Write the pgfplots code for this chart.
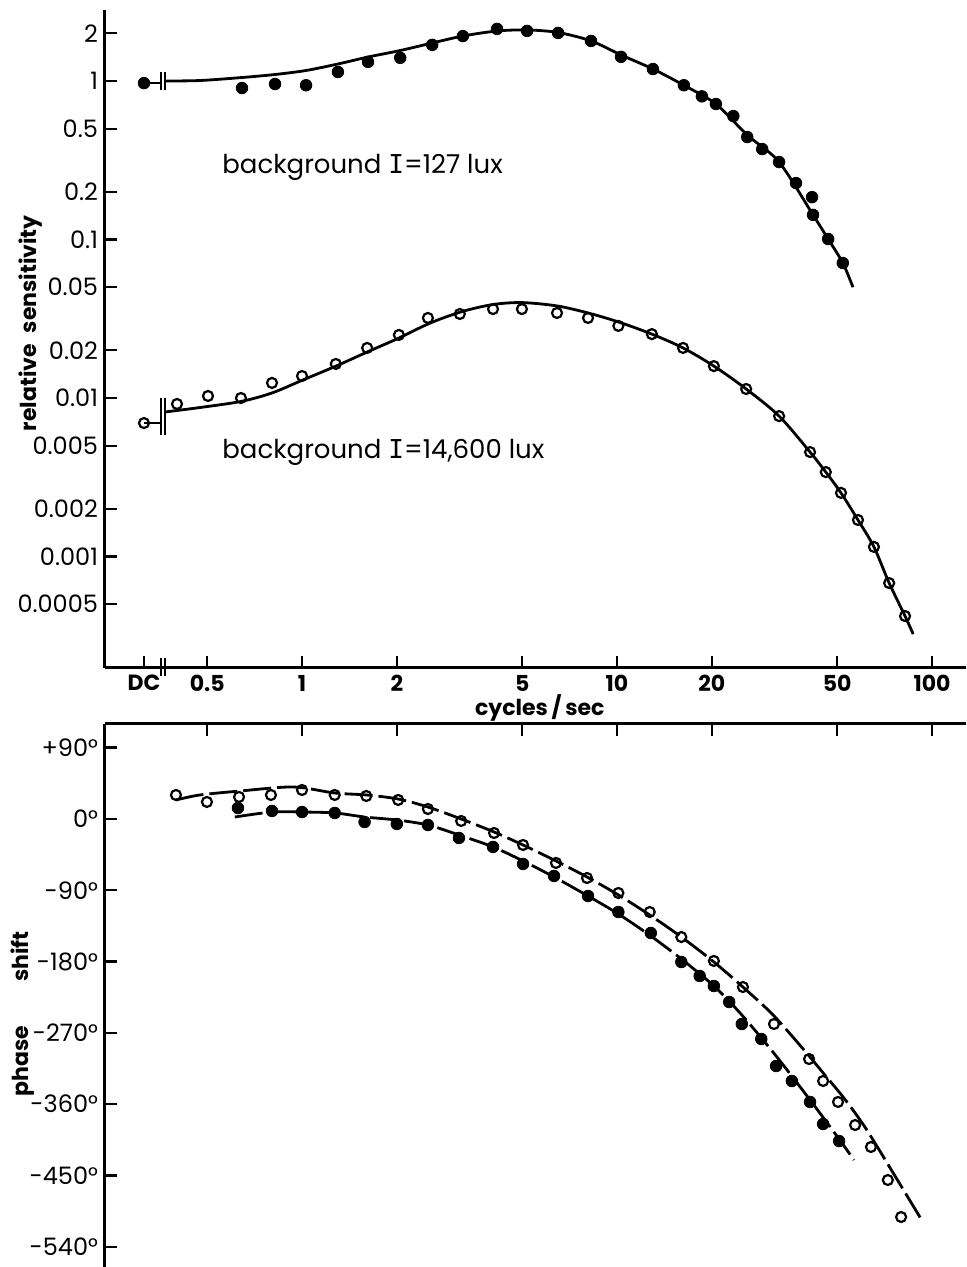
\documentclass[border=0pt]{standalone}
\usepackage{pgfplots}
\pgfplotsset{compat=1.18}
\usepackage{fontspec}
\setmainfont{Poppins}
\newfontfamily\monoI{DejaVu Sans Mono}

\pgfplotsset{
  panel/.style={
    scale only axis, width=430.5pt,
    xmin=0.2369, xmax=128.2,
    axis line style={line width=1.5pt},
    tick style={line width=1.2pt, black},
    major tick length=6pt, tick align=inside,
    minor xtick={}, minor ytick={},
    clip=false,
    /pgf/number format/assume math mode=true,
    tick label style={font=\fontsize{12}{14}\selectfont},
    label style={font=\bfseries\fontsize{11}{13}\selectfont},
  },
  fitline/.style={black, line width=1.4pt, smooth, no marks},
  fdots/.style={only marks, mark=*, mark size=2.9pt, black},
  odots/.style={only marks, mark=o, mark size=2.5pt, black,
    mark options={line width=1.1pt, fill=white}},
}

\begin{document}
\begin{tikzpicture}

% ---- amplitude ----
\begin{axis}[xmode=log, ymode=log, panel, at={(52.5pt,299.5pt)}, anchor=south west, height=329pt,
  ymin=0.000198, ymax=2.806,
  axis x line*=bottom, axis y line*=left,
  xtick={0.315,0.5,1,2,5,10,20,50,100},
  xticklabels={DC,0.5,1,2,5,10,20,50,100},
  xticklabel style={font=\bfseries\fontsize{11}{13}\selectfont},
  ytick={2,1,0.5,0.2,0.1,0.05,0.02,0.01,0.005,0.002,0.001,0.0005},
  yticklabels={2,1,0.5,0.2,0.1,0.05,0.02,0.01,0.005,0.002,0.001,0.0005},
  xlabel={cycles\,/\,sec},
  xlabel style={at={(axis description cs:0.505,0)}, anchor=north, yshift=-13pt, inner sep=0pt},
  ylabel={relative\enspace sensitivity},
  ylabel style={at={(axis description cs:-0.086,0.524)}, anchor=center},
]
% 127 lux
\addplot[black, line width=1.4pt] coordinates {(0.315,0.97)(0.357,0.97)};
\addplot[fitline] coordinates {(0.367,1.00)(0.4745,1.007)(0.645,1.052)(0.821,1.099)(1.03,1.165)(1.30,1.280)(1.62,1.417)(2.05,1.557)(2.59,1.737)(3.24,1.922)(4.16,2.068)(5.18,2.099)(6.50,2.024)(8.27,1.79)(10.3,1.46)(13.0,1.19)(16.3,0.94)(20.6,0.716)(25.9,0.456)(32.7,0.308)(41.9,0.143)(46.8,0.1007)(52.1,0.0711)(56.1,0.050)};
\addplot[fdots] coordinates {(0.315,0.97)(0.645,0.903)(0.821,0.957)(1.03,0.94)(1.30,1.14)(1.62,1.32)(2.05,1.40)(2.59,1.69)(3.24,1.92)(4.16,2.13)(5.18,2.07)(6.50,2.01)(8.27,1.79)(10.3,1.42)(13.0,1.19)(16.3,0.94)(18.6,0.80)(20.6,0.716)(23.4,0.601)(25.9,0.443)(28.9,0.372)(32.7,0.308)(37.0,0.227)(41.6,0.185)(41.9,0.143)(46.8,0.1007)(52.1,0.0711)};
% 14,600 lux
\addplot[black, line width=1.4pt] coordinates {(0.315,0.00695)(0.357,0.00695)};
\addplot[fitline] coordinates {(0.367,0.00816)(0.4745,0.00871)(0.640,0.00951)(0.803,0.01076)(1.007,0.0130)(1.282,0.0159)(1.61,0.0195)(2.03,0.0239)(2.55,0.0297)(3.22,0.0351)(4.04,0.0389)(4.99,0.0400)(6.45,0.0381)(8.09,0.0344)(10.1,0.0302)(12.9,0.0253)(16.2,0.0207)(20.3,0.0159)(25.7,0.0114)(32.7,0.00769)(41.0,0.00456)(46.0,0.00341)(51.4,0.00252)(58.2,0.00170)(65.4,0.00115)(73.1,0.00068)(82.1,0.000421)(87.1,0.000324)};
\addplot[odots] coordinates {(0.315,0.00695)(0.401,0.00917)(0.503,0.0103)(0.640,0.0100)(0.803,0.01245)(1.0,0.01377)(1.28,0.0164)(1.61,0.0207)(2.03,0.0250)(2.51,0.0320)(3.17,0.0339)(4.04,0.0364)(4.99,0.0364)(6.45,0.0344)(8.09,0.0320)(10.1,0.0285)(12.9,0.0253)(16.2,0.0207)(20.3,0.0159)(25.7,0.0114)(32.7,0.00769)(41.0,0.00456)(46.0,0.00341)(51.4,0.00252)(58.2,0.00170)(65.4,0.00115)(73.1,0.00068)(82.1,0.000421)};
% scale breaks
\draw[line width=1pt] (axis cs:0.357,0.877) -- (axis cs:0.357,1.14);
\draw[line width=1pt] (axis cs:0.367,0.877) -- (axis cs:0.367,1.14);
\draw[line width=1pt] (axis cs:0.357,0.00584) -- (axis cs:0.357,0.0100);
\draw[line width=1pt] (axis cs:0.367,0.00584) -- (axis cs:0.367,0.0100);
\draw[line width=1pt] ([yshift=-4pt]axis cs:0.357,0.000198) -- ++(0pt,9pt);
\draw[line width=1pt] ([yshift=-4pt]axis cs:0.367,0.000198) -- ++(0pt,9pt);
\node[anchor=west, inner sep=0pt, font=\fontsize{13}{15}\selectfont] at (axis cs:0.557,0.2867) {background {\monoI I}=127 lux};
\node[anchor=west, inner sep=0pt, font=\fontsize{13}{15}\selectfont] at (axis cs:0.557,0.00456) {background {\monoI I}=14,600 lux};
\end{axis}

% ---- phase ----
\begin{axis}[xmode=log, panel, at={(52.5pt,0pt)}, anchor=south west, height=271.5pt,
  ymin=-565.5, ymax=119.9,
  axis x line*=top, axis y line*=left,
  xtick={0.5,1,2,5,10,20,50,100}, xticklabels={},
  ytick={90,0,-90,-180,-270,-360,-450,-540},
  yticklabels={+90°,0°,-90°,-180°,-270°,-360°,-450°,-540°},
  ylabel={phase\qquad shift},
  ylabel style={at={(axis description cs:-0.0952,0.466)}, anchor=center},
]
\addplot[fitline, dash pattern=on 14pt off 3pt] coordinates {(0.398,24)(0.474,30.3)(0.636,35.3)(0.936,40.4)(1.27,32.8)(1.60,30.3)(2.02,25.2)(2.51,15.1)(3.20,0)(4.07,-16.4)(5.03,-32.8)(6.40,-53.0)(8.03,-73.2)(10.1,-95.9)(12.7,-121.2)(16.0,-148.9)(20.3,-180.5)(25.1,-212.1)(31.3,-247.4)(39.5,-292.9)(45.7,-323.2)(52.2,-350.9)(59.1,-379.9)(65.9,-409.0)(92.3,-504.9)};
\addplot[odots] coordinates {(0.398,30.3)(0.499,21.5)(0.631,27.8)(0.797,30.3)(1.0,36.6)(1.27,30.3)(1.60,29.0)(2.02,24.0)(2.51,12.6)(3.20,-2.5)(4.07,-17.7)(5.03,-32.8)(6.40,-55.5)(8.03,-74.5)(10.1,-93.4)(12.7,-117.4)(16.0,-149.0)(20.3,-179.2)(25.1,-212.1)(31.5,-258.8)(40.7,-303.0)(45.1,-330.7)(50.3,-357.2)(57.0,-386.3)(64.0,-414.0)(72.4,-455.7)(79.8,-502.4)};
\addplot[fitline, dash pattern=on 14pt off 3pt] coordinates {(0.612,2.5)(0.803,8.8)(1.0,8.8)(1.27,7.6)(1.58,2.5)(2.0,-1.3)(2.51,-7.6)(3.15,-20.2)(4.04,-35.3)(5.03,-53.0)(6.31,-73.2)(8.09,-97.2)(10.1,-119.9)(12.8,-147.7)(16.0,-176.7)(20.3,-210.8)(24.9,-247.4)(32.0,-299.2)(41.0,-354.7)(50.7,-404.0)(56.5,-430.4)};
\addplot[fdots] coordinates {(0.626,13.9)(0.803,10.1)(1.0,8.8)(1.27,7.6)(1.58,-3.8)(2.0,-6.3)(2.51,-7.6)(3.15,-24.0)(4.04,-35.3)(5.03,-56.8)(6.31,-71.9)(8.09,-97.2)(10.1,-117.4)(12.8,-143.9)(16.0,-180.5)(18.3,-198.2)(20.3,-210.8)(22.7,-231)(24.9,-258.8)(28.7,-277.7)(32.0,-311.8)(35.9,-330.7)(41.0,-357.2)(45.1,-385.0)(50.7,-406.5)};
\end{axis}

\pgfresetboundingbox
\path[use as bounding box] (0,0) rectangle (483pt,633.5pt);
\end{tikzpicture}
\end{document}
